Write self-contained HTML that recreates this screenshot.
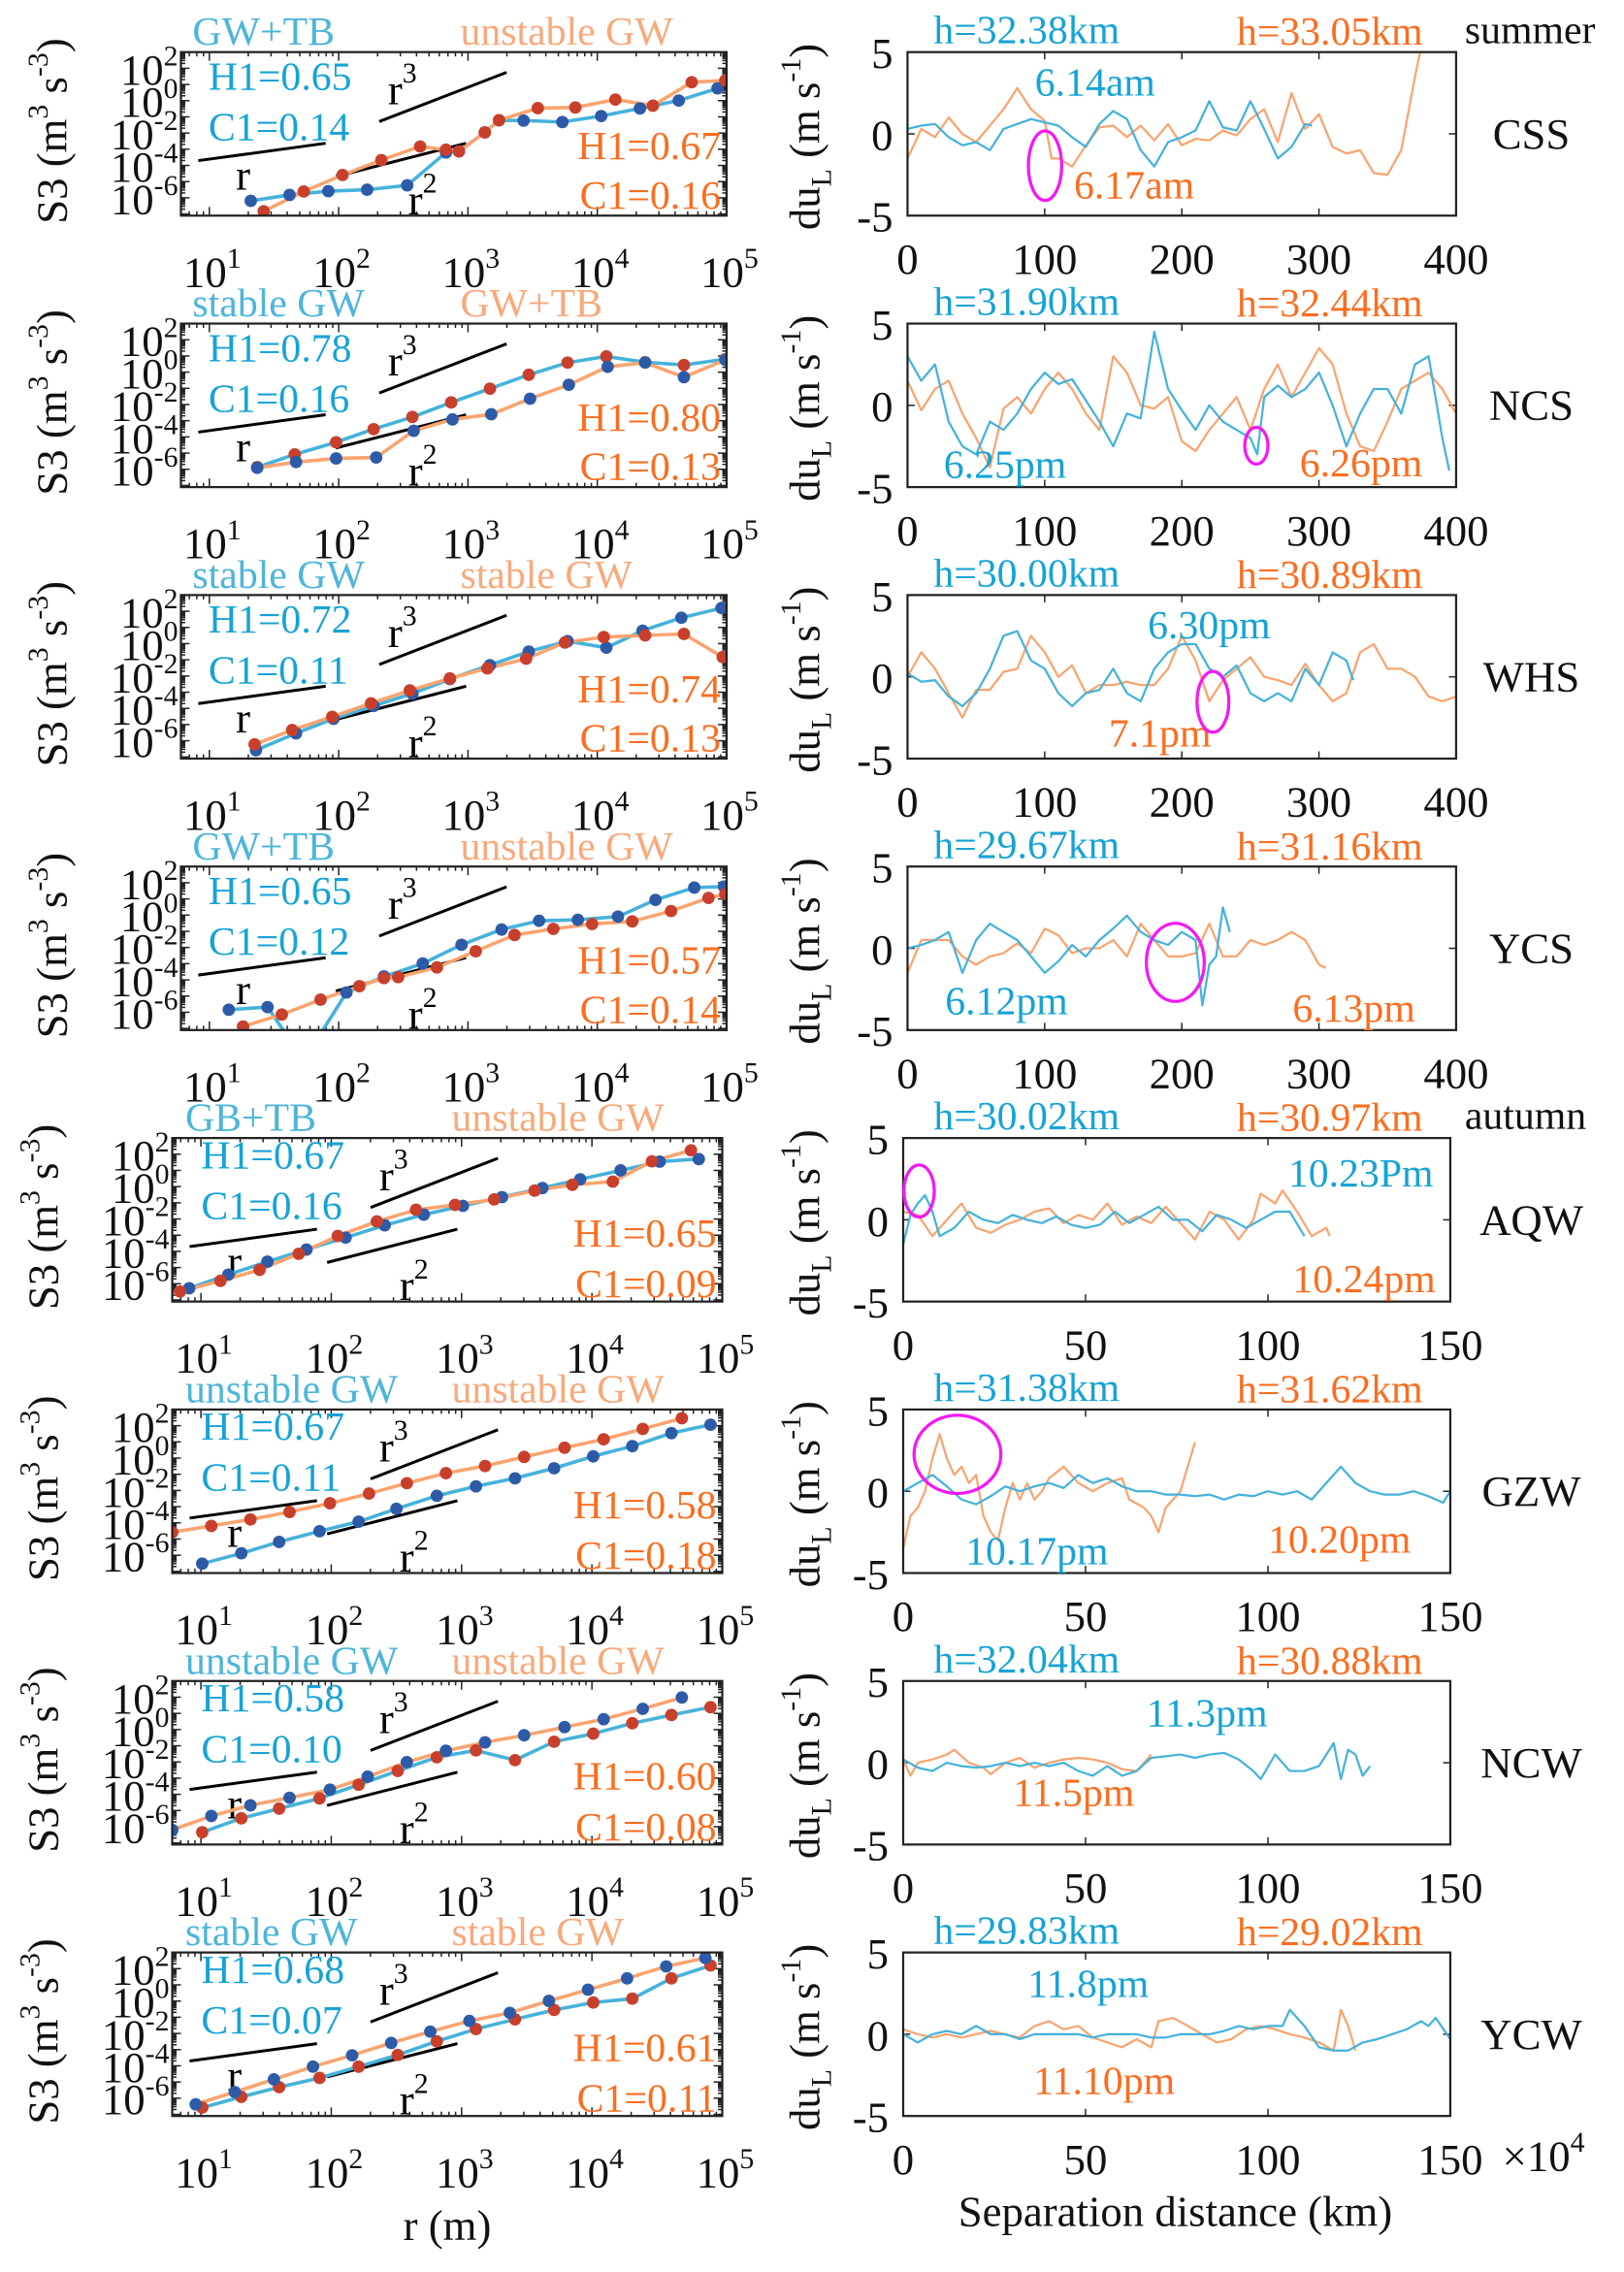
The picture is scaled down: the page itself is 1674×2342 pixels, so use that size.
<!DOCTYPE html>
<html><head><meta charset="utf-8"><title>S3 and du_L panels</title>
<style>
html,body{margin:0;padding:0;background:#fff;}
svg{display:block;font-family:"Liberation Serif","Times New Roman",serif;}
</style></head>
<body>
<svg id="fig" width="1674" height="2342" viewBox="0 0 1122 1570" preserveAspectRatio="none" xmlns="http://www.w3.org/2000/svg">
<rect x="0" y="0" width="1122" height="1570" fill="#fff"/>
<defs id="defs"></defs>
</svg>
<script>
// ---------- label data ----------
const titleBlue = ['GW+TB','stable GW','stable GW','GW+TB','GB+TB','unstable GW','unstable GW','stable GW'];
const titleOrange = ['unstable GW','GW+TB','stable GW','unstable GW','unstable GW','unstable GW','unstable GW','stable GW'];
const h1Blue = ['0.65','0.78','0.72','0.65','0.67','0.67','0.58','0.68'];
const c1Blue = ['0.14','0.16','0.11','0.12','0.16','0.11','0.10','0.07'];
const h1Orange = ['0.67','0.80','0.74','0.57','0.65','0.58','0.60','0.61'];
const c1Orange = ['0.16','0.13','0.13','0.14','0.09','0.18','0.08','0.11'];
const hBlue = ['32.38','31.90','30.00','29.67','30.02','31.38','32.04','29.83'];
const hOrange = ['33.05','32.44','30.89','31.16','30.97','31.62','30.88','29.02'];
const stations = ['CSS','NCS','WHS','YCS','AQW','GZW','NCW','YCW'];
const timeBlue = ['6.14am','6.25pm','6.30pm','6.12pm','10.23Pm','10.17pm','11.3pm','11.8pm'];
const timeOrange = ['6.17am','6.26pm','7.1pm','6.13pm','10.24pm','10.20pm','11.5pm','11.10pm'];
const xTicksLong = [0,100,200,300,400];
const xTicksShort = [0,50,100,150];
const yTicksDu = [5,0,-5];
const logXTicks = [1,2,3,4,5];
const logYTicks = [2,0,-2,-4,-6];

// ---------- S3 data: [log10 r, log10 S3] ----------
const s3Blue1 = [[1.32,-6.19],[1.62,-5.82],[1.92,-5.59],[2.22,-5.50],[2.53,-5.23],[2.83,-3.2],[2.93,-3.13],[3.13,-1.96],[3.24,-1.21],[3.43,-1.23],[3.73,-1.32],[4.03,-0.95],[4.33,-0.48],[4.63,0.01],[4.93,0.76]];
const s3Orange1 = [[1.42,-6.83],[1.73,-5.61],[2.03,-4.59],[2.33,-3.67],[2.63,-2.83],[2.83,-3.03],[2.93,-3.13],[3.13,-1.96],[3.24,-1.21],[3.54,-0.46],[3.83,-0.42],[4.14,0.07],[4.43,-0.31],[4.73,1.14],[4.99,1.25]];
const s3Blue2 = [[1.37,-5.87],[1.66,-5.08],[1.98,-4.33],[2.27,-3.52],[2.57,-2.77],[2.87,-1.87],[3.17,-1.02],[3.47,-0.16],[3.77,0.59],[4.07,0.97],[4.37,0.61],[4.67,0.44],[4.99,0.80]];
const s3Orange2 = [[1.37,-5.91],[1.67,-5.55],[1.98,-5.33],[2.29,-5.27],[2.58,-3.62],[2.88,-2.92],[3.18,-2.60],[3.48,-1.64],[3.78,-0.78],[4.08,0.33],[4.37,0.59],[4.67,-0.31],[4.99,0.76]];
const s3Blue3 = [[1.36,-6.58],[1.67,-5.54],[1.96,-4.64],[2.27,-3.85],[2.57,-3.09],[2.86,-2.19],[3.17,-1.33],[3.47,-0.49],[3.77,0.15],[4.07,-0.25],[4.35,0.80],[4.65,1.60],[4.96,2.20]];
const s3Orange3 = [[1.35,-6.22],[1.64,-5.34],[1.95,-4.52],[2.25,-3.69],[2.55,-2.89],[2.86,-2.15],[3.15,-1.53],[3.45,-0.93],[3.75,0.07],[4.05,0.41],[4.37,0.51],[4.67,0.60],[4.97,-0.83]];
const s3Blue4 = [[1.15,-5.84],[1.45,-5.68],[1.73,-8.98],[2.06,-4.78],[2.35,-3.79],[2.65,-2.99],[2.95,-1.83],[3.26,-0.89],[3.55,-0.35],[3.85,-0.29],[4.16,-0.09],[4.45,0.94],[4.75,1.70],[4.98,1.76]];
const s3Orange4 = [[1.26,-6.88],[1.56,-6.14],[1.86,-5.22],[2.16,-4.39],[2.35,-3.89],[2.46,-3.83],[2.76,-3.23],[3.06,-2.23],[3.36,-1.23],[3.66,-0.85],[3.96,-0.55],[4.27,-0.39],[4.57,0.25],[4.86,1.06],[4.99,1.30]];
const s3Blue5 = [[0.91,-6.28],[1.21,-5.44],[1.51,-4.64],[1.81,-3.89],[2.11,-3.15],[2.41,-2.39],[2.71,-1.73],[3.01,-1.19],[3.31,-0.65],[3.62,-0.09],[3.91,0.45],[4.22,1.0],[4.52,1.54],[4.82,1.70]];
const s3Orange5 = [[0.84,-6.48],[1.15,-5.82],[1.45,-5.14],[1.75,-4.15],[2.05,-3.05],[2.35,-2.15],[2.65,-1.43],[2.95,-1.13],[3.25,-0.79],[3.56,-0.25],[3.85,0.11],[4.16,0.31],[4.46,1.56],[4.76,2.24]];
const s3Blue6 = [[1.01,-6.52],[1.31,-5.88],[1.60,-5.18],[1.91,-4.52],[2.21,-3.93],[2.50,-3.13],[2.81,-2.33],[3.11,-1.75],[3.41,-1.25],[3.71,-0.63],[4.01,0.11],[4.31,0.74],[4.61,1.54],[4.91,2.06]];
const s3Orange6 = [[0.78,-4.58],[1.08,-4.19],[1.38,-3.79],[1.68,-3.33],[1.99,-2.79],[2.29,-2.19],[2.58,-1.55],[2.88,-0.93],[3.18,-0.49],[3.48,0.07],[3.79,0.64],[4.09,1.16],[4.39,1.80],[4.69,2.46]];
const s3Blue7 = [[1.01,-6.34],[1.31,-5.48],[1.60,-4.88],[1.91,-4.25],[2.21,-3.41],[2.51,-2.55],[2.81,-1.71],[3.11,-1.29],[3.41,-1.89],[3.71,-0.75],[4.01,-0.25],[4.31,0.39],[4.61,0.90],[4.91,1.38]];
const s3Orange7 = [[0.78,-6.20],[1.08,-5.34],[1.38,-4.68],[1.68,-4.21],[1.99,-3.71],[2.28,-2.91],[2.58,-2.01],[2.88,-1.31],[3.18,-0.79],[3.48,-0.35],[3.79,0.15],[4.09,0.64],[4.39,1.28],[4.69,1.98]];
const s3Blue8 = [[1.01,-6.58],[1.31,-5.92],[1.60,-5.32],[1.91,-4.75],[2.21,-4.05],[2.51,-3.33],[2.81,-2.49],[3.11,-1.73],[3.41,-1.13],[3.71,-0.55],[4.01,-0.09],[4.31,0.15],[4.61,1.40],[4.91,2.20]];
const s3Orange8 = [[0.96,-6.38],[1.26,-5.62],[1.56,-4.84],[1.86,-4.05],[2.16,-3.35],[2.46,-2.59],[2.76,-1.89],[3.06,-1.23],[3.37,-0.73],[3.67,0.01],[3.97,0.70],[4.27,1.40],[4.57,2.14],[4.87,2.66]];
const s3BlueSeries = [s3Blue1,s3Blue2,s3Blue3,s3Blue4,s3Blue5,s3Blue6,s3Blue7,s3Blue8];
const s3OrangeSeries = [s3Orange1,s3Orange2,s3Orange3,s3Orange4,s3Orange5,s3Orange6,s3Orange7,s3Orange8];
const blueDotColor = ['#2d5ba8','#c8402c','#2d5ba8','#2d5ba8','#2d5ba8','#2d5ba8','#c8402c','#c8402c'];
const orangeDotColor = ['#c8402c','#2d5ba8','#c8402c','#c8402c','#c8402c','#c8402c','#2d5ba8','#2d5ba8'];

// ---------- du_L data: [distance km, du m/s] ----------
const duBlue1 = [[0,0.3],[10,0.5],[20,0.6],[30,-0.2],[40,-0.7],[50,-0.5],[60,-1.0],[70,0.3],[80,0.6],[90,0.9],[100,0.7],[110,0.5],[120,-0.2],[130,-0.8],[140,0.6],[150,1.4],[160,0.9],[170,-1.0],[180,-2.0],[190,-0.5],[200,-0.2],[210,0.2],[220,2.0],[230,0.4],[240,0.2],[250,2.0],[260,0.3],[270,-1.5],[280,-0.8],[290,0.6],[295,0.5]];
const duOrange1 = [[0,-1.5],[10,0.3],[20,-0.2],[30,1.0],[40,0.0],[50,-0.5],[60,0.5],[70,1.5],[80,2.8],[90,1.5],[100,0.8],[105,-1.5],[110,-1.5],[120,-2.0],[130,-0.7],[140,0.4],[150,0.5],[160,-0.2],[170,0.5],[180,-0.4],[190,0.6],[200,-0.7],[210,-0.3],[220,-0.4],[230,0.2],[240,-0.1],[250,0.9],[260,1.5],[270,-0.5],[280,2.5],[290,0.3],[300,1.2],[310,-0.8],[320,-1.2],[330,-1.0],[340,-2.4],[350,-2.5],[360,-1.0],[370,3.5],[375,5.5]];
const duBlue2 = [[0,3.0],[10,1.5],[20,2.5],[30,-1.0],[40,-2.5],[50,-3.0],[60,-1.0],[70,-1.5],[80,-0.5],[90,1.0],[100,2.0],[110,1.3],[120,1.6],[130,0.3],[140,-1.0],[150,-2.5],[160,-0.5],[170,-0.8],[180,4.5],[190,1.0],[200,-0.3],[210,-1.5],[220,0.0],[230,-1.0],[240,-1.5],[250,-2.0],[255,-3.0],[260,0.5],[270,1.2],[280,0.5],[290,1.0],[300,2.0],[310,0.0],[320,-2.5],[330,-0.5],[340,1.0],[350,1.0],[360,-0.5],[370,2.5],[380,3.0],[390,-2.0],[395,-4.0]];
const duOrange2 = [[0,1.5],[10,-0.3],[20,1.0],[30,1.5],[40,-0.5],[50,-2.0],[60,-3.8],[70,-0.2],[80,0.5],[90,-0.5],[100,1.0],[110,2.0],[120,1.0],[130,-0.5],[140,-1.5],[150,3.0],[160,2.0],[170,0.0],[180,-0.2],[190,0.5],[200,-2.2],[210,-2.8],[220,-1.5],[230,-0.5],[240,0.5],[250,-1.5],[260,1.0],[270,2.5],[280,0.5],[290,2.0],[300,3.5],[310,2.5],[320,-0.5],[330,-2.5],[340,-2.8],[350,-1.0],[360,1.0],[370,1.5],[380,2.0],[390,1.0],[400,-0.5]];
const duBlue3 = [[0,0.2],[10,-0.3],[20,-0.2],[30,-1.2],[40,-1.8],[50,-1.0],[60,0.5],[70,2.5],[80,2.8],[90,1.0],[100,0.5],[110,-1.0],[120,-1.8],[130,-1.0],[140,-0.8],[150,0.5],[160,-1.0],[170,-1.5],[180,0.5],[190,1.5],[200,2.0],[210,2.0],[220,0.5],[230,0.0],[240,0.7],[250,-1.0],[260,-1.5],[270,-1.0],[280,-1.5],[290,0.5],[300,-0.5],[310,1.5],[320,1.0],[325,-0.2]];
const duOrange3 = [[0,0.0],[10,1.5],[20,0.5],[30,-1.0],[40,-2.5],[50,-0.8],[60,-0.8],[70,0.3],[80,0.5],[90,2.5],[100,1.5],[110,0.0],[120,0.7],[130,-1.0],[140,-0.5],[150,-0.5],[160,-0.3],[170,-0.5],[180,-0.5],[190,0.5],[200,2.5],[210,1.0],[220,-1.5],[230,-0.2],[240,0.5],[250,1.2],[260,0.0],[270,-0.2],[280,-0.5],[290,0.8],[300,-0.5],[310,-1.5],[320,-1.0],[330,1.5],[340,2.0],[350,0.5],[360,0.5],[370,0.0],[380,-1.2],[390,-1.5],[400,-1.2]];
const duBlue4 = [[0,0.0],[10,0.2],[20,0.5],[30,1.0],[40,-1.5],[50,0.5],[60,1.5],[70,1.0],[80,0.5],[90,-0.5],[100,-1.5],[110,-0.8],[120,0.2],[130,-0.5],[140,0.5],[150,1.2],[160,2.0],[170,1.0],[180,0.5],[190,0.2],[200,1.0],[210,0.5],[215,-3.5],[220,-1.0],[225,-0.5],[230,2.5],[235,1.0]];
const duOrange4 = [[0,-1.5],[10,0.5],[20,0.5],[30,0.5],[40,-0.5],[50,-1.0],[60,-0.5],[70,-0.3],[80,0.3],[90,-0.3],[100,1.2],[110,0.8],[120,-0.3],[130,0.0],[140,0.0],[150,0.5],[160,-0.5],[170,1.5],[180,0.5],[190,-0.5],[200,-0.5],[210,-0.3],[220,1.5],[230,-0.5],[240,-0.5],[250,0.5],[260,0.2],[270,0.5],[280,1.0],[290,0.5],[300,-1.0],[305,-1.2]];
const duBlue5 = [[0,-1.5],[2,0.3],[4,1.0],[6,1.5],[8,0.5],[10,-1.0],[14,-0.5],[18,0.5],[22,0.0],[26,-0.2],[30,0.3],[34,0.0],[38,-0.2],[42,0.2],[46,-0.3],[50,-0.5],[54,-0.3],[58,0.5],[62,-0.2],[66,0.3],[70,0.8],[74,0.0],[78,0.0],[82,-0.7],[86,0.3],[90,0.0],[94,-0.5],[98,0.0],[102,0.5],[106,0.5],[110,-1.0]];
const duOrange5 = [[0,0.5],[4,0.3],[8,-1.0],[12,0.0],[16,1.0],[20,-0.5],[24,-0.8],[28,-0.3],[32,0.0],[36,0.5],[40,0.7],[44,-0.2],[48,0.3],[52,0.0],[56,1.0],[60,-0.3],[64,0.2],[68,-0.2],[72,0.8],[76,-0.2],[80,-1.2],[84,0.5],[88,0.0],[92,-1.2],[96,0.0],[98,1.6],[102,1.0],[104,1.8],[108,0.5],[112,-1.0],[116,-0.5],[117,-1.0]];
const duBlue6 = [[0,0.0],[4,0.5],[8,1.0],[12,0.3],[16,-0.5],[20,-0.8],[24,-0.3],[28,0.3],[32,0.0],[36,0.3],[40,0.5],[44,0.2],[48,1.0],[52,0.5],[56,0.8],[60,0.3],[64,0.0],[68,0.0],[72,-0.2],[76,-0.2],[80,-0.3],[84,-0.2],[88,-0.5],[92,-0.2],[96,-0.3],[100,0.0],[104,-0.2],[108,0.0],[112,-0.5],[116,0.5],[120,1.5],[124,0.5],[128,0.0],[132,-0.2],[136,-0.2],[140,0.0],[144,-0.3],[148,-0.7],[150,0.0]];
const duOrange6 = [[0,-3.5],[2,-1.5],[4,-1.0],[6,0.0],[8,2.0],[10,3.5],[12,2.0],[14,1.0],[16,1.5],[18,0.5],[20,1.0],[22,-1.5],[24,-2.5],[26,-3.0],[28,-1.0],[30,0.5],[32,-0.5],[34,0.5],[36,-0.5],[38,0.0],[40,0.8],[44,1.5],[48,0.5],[52,0.0],[56,0.5],[60,0.8],[62,-0.5],[66,-1.0],[68,-1.5],[70,-2.5],[72,-1.0],[76,0.0],[80,3.0]];
const duBlue7 = [[0,0.2],[4,-0.3],[8,-0.5],[12,0.0],[16,-0.2],[20,-0.3],[24,-0.2],[28,0.0],[32,-0.2],[36,0.0],[40,-0.2],[44,0.0],[48,-0.5],[52,-0.8],[56,-0.2],[60,-0.8],[64,-0.5],[68,0.3],[72,0.4],[76,0.5],[80,0.3],[84,0.5],[88,0.6],[92,0.2],[96,-0.5],[98,-1.0],[102,0.5],[106,-0.5],[110,-0.5],[114,-0.2],[118,1.2],[120,-1.0],[122,0.8],[124,0.5],[126,-0.8],[128,-0.2]];
const duOrange7 = [[0,0.2],[2,-0.8],[4,0.0],[8,0.2],[12,0.5],[14,0.8],[18,0.0],[22,-0.3],[24,-0.7],[28,0.0],[32,0.3],[36,-0.3],[40,0.0],[44,0.2],[48,0.3],[52,0.2],[56,0.0],[60,-0.4],[64,-0.5],[68,0.5]];
const duBlue8 = [[0,0.0],[4,-0.5],[8,0.0],[12,0.2],[16,0.0],[20,0.5],[24,0.0],[28,0.0],[32,-0.3],[36,0.0],[40,0.0],[44,0.0],[48,0.0],[52,-0.2],[56,0.0],[60,0.0],[64,0.0],[68,-0.2],[72,-0.2],[76,0.0],[80,0.0],[84,0.0],[88,0.2],[92,0.5],[96,0.3],[100,0.5],[104,0.5],[106,1.5],[110,0.5],[114,-0.8],[118,-1.0],[122,-1.0],[126,-0.5],[130,-0.3],[134,0.0],[138,0.3],[142,0.8],[144,0.5],[146,1.0],[150,-0.3]];
const duOrange8 = [[0,0.3],[4,0.0],[8,-0.2],[12,0.0],[16,-0.2],[20,0.0],[24,0.2],[28,0.0],[32,-0.2],[36,0.5],[40,0.8],[44,0.3],[48,0.5],[52,-0.2],[56,-0.5],[60,-0.8],[64,-0.3],[68,-0.8],[70,0.8],[74,1.0],[78,0.5],[82,0.0],[86,-0.5],[90,-0.3],[94,0.3],[98,0.5],[102,0.3],[106,0.0],[110,-0.2],[114,-0.5],[118,-1.0],[120,1.5],[122,0.5],[124,-1.0]];
const duBlueSeries = [duBlue1,duBlue2,duBlue3,duBlue4,duBlue5,duBlue6,duBlue7,duBlue8];
const duOrangeSeries = [duOrange1,duOrange2,duOrange3,duOrange4,duOrange5,duOrange6,duOrange7,duOrange8];

// ---------- layout (not data) ----------
const C_BLUE_LINE='#45b2db', C_OR_LINE='#f9a46f', C_BLUE_TXT='#16a3d6', C_OR_TXT='#fb6d1f', C_BLUE_TTL='#4db5da', C_OR_TTL='#f8a97b';
const ROW0=36, ROWSTEP=187.6, BOXH=113;
const YLOG=[-7.1,3], XLOG=[0.78,5];
const FS=28, TFS=30;
const timeBluePos=[[715,66],[652,330],[793,441],[653,701],[890,820],[667,1081],[792,1193],[710,1380]];
const timeOrangePos=[[742,137],[898,329],[766,516],[893,706],[893,893],[876,1073],[700,1248],[714,1447]];
const ellipsePos=[[722,114.5,11.5,24],[868,308,8,12.7],[838,485,11,21],[812,665,20,27],[635,823,10.5,18],[661.5,1005,30,27]];

const NS='http://www.w3.org/2000/svg';
const svg=document.getElementById('fig');
const defs=document.getElementById('defs');
function el(tag,parent){const e=document.createElementNS(NS,tag);(parent||svg).appendChild(e);return e;}
function attrs(e,o){for(const k in o)e.setAttribute(k,o[k]);return e;}
function txt(parent,x,y,s,size,fill,anchor){const t=el('text',parent);attrs(t,{x:x,y:y,'font-size':size,fill:fill,'text-anchor':anchor||'start'});t.textContent=s;return t;}
function powText(parent,x,y,exp,anchor){const t=el('text',parent);attrs(t,{x:x,y:y,'font-size':TFS,fill:'#111','text-anchor':anchor});t.appendChild(document.createTextNode('10'));const s=el('tspan',t);attrs(s,{dy:-13,'font-size':20});s.textContent=String(exp);return t;}

for(let i=0;i<8;i++){
  const top=ROW0+ROWSTEP*i, bot=top+BOXH;
  const lx0=i<4?125:119, lx1=i<4?502:499;
  const rx0=i<4?627:624, rx1=i<4?1006:1002;
  const xmax=i<4?400:150;
  const xs=v=>lx0+(v-XLOG[0])/(XLOG[1]-XLOG[0])*(lx1-lx0);
  const ys=v=>bot-(v-YLOG[0])/(YLOG[1]-YLOG[0])*BOXH;
  const dx=v=>rx0+v/xmax*(rx1-rx0);
  const dy=v=>top+(5-v)/10*BOXH;

  // ===== left panel =====
  const L=el('g');
  
  
  const cpL=el('clipPath',defs); cpL.setAttribute('id','cl'+i);
  attrs(el('rect',cpL),{x:lx0,y:top,width:lx1-lx0,height:BOXH});
  const tk=el('g',L);
  
  
  for(let d=0;d<=5;d++){for(let m=1;m<=9;m++){const lv=d+Math.log10(m);if(lv<XLOG[0]||lv>XLOG[1])continue;const len=m===1?6:3;const x=xs(lv);
    attrs(el('line',tk),{x1:x,y1:bot,x2:x,y2:bot-len,stroke:'#222','stroke-width':1});
    attrs(el('line',tk),{x1:x,y1:top,x2:x,y2:top+len,stroke:'#222','stroke-width':1});}}
  for(let d=-8;d<=3;d++){for(let m=1;m<=9;m++){const lv=d+Math.log10(m);if(lv<YLOG[0]||lv>YLOG[1])continue;const len=m===1?6:3;const y=ys(lv);
    attrs(el('line',tk),{x1:lx0,y1:y,x2:lx0+len,y2:y,stroke:'#222','stroke-width':1});
    attrs(el('line',tk),{x1:lx1,y1:y,x2:lx1-len,y2:y,stroke:'#222','stroke-width':1});}}
  for(const e of logYTicks){const t=powText(L,lx0-2,ys(e)+11,e,'end');
    
    }
  for(const e of logXTicks){const t=powText(L,xs(e)+2,bot+49,e,'middle');
    
    }
  const rl=el('g',L);
  
  
  const sh=lx0-125;
  attrs(el('line',rl),{x1:137+sh,y1:top+75,x2:225+sh,y2:top+63,stroke:'#000','stroke-width':2});
  attrs(el('line',rl),{x1:262+sh,y1:top+48,x2:350+sh,y2:top+14,stroke:'#000','stroke-width':2});
  attrs(el('line',rl),{x1:232+sh,y1:top+86,x2:322+sh,y2:top+63,stroke:'#000','stroke-width':2});
  txt(rl,163+sh,top+95,'r',FS+2,'#000');
  const r3=txt(rl,268+sh,top+36,'r',FS+2,'#000'); const s3=el('tspan',r3); attrs(s3,{dy:-15,'font-size':20}); s3.textContent='3';
  const r2=txt(rl,282+sh,top+112,'r',FS+2,'#000'); const s2=el('tspan',r2); attrs(s2,{dy:-15,'font-size':20}); s2.textContent='2';
  const sg=el('g',L); sg.setAttribute('clip-path','url(#cl'+i+')');
  const pairs=[[s3BlueSeries[i],C_BLUE_LINE,blueDotColor[i],'blue'],[s3OrangeSeries[i],C_OR_LINE,orangeDotColor[i],'orange']];
  for(const [ser,lc,dc,nm] of pairs){
    const p=el('polyline',sg);
    
    
    attrs(p,{points:ser.map(q=>xs(q[0]).toFixed(1)+','+ys(q[1]).toFixed(1)).join(' '),fill:'none',stroke:lc,'stroke-width':2.4});
  }
  for(const [ser,lc,dc,nm] of pairs){
    for(const q of ser){const c=el('circle',sg);
      
      
      attrs(c,{cx:xs(q[0]),cy:ys(q[1]),r:4.3,fill:dc});}
  }
  const bx=el('rect',L);
  
  
  attrs(bx,{x:lx0,y:top,width:lx1-lx0,height:BOXH,fill:'none',stroke:'#222','stroke-width':1.5});
  const bl=i<4?133:128, ol=i<4?318:312;
  let t=txt(L,bl,top-5,titleBlue[i],FS,C_BLUE_TTL);
  
  
  t=txt(L,ol,top-5,titleOrange[i],FS,C_OR_TTL);
  
  
  const ax=i<4?144:139, ha=i<4?26:21, ca=i<4?61:56, hb=i<4?74:75, cb=i<4?108:110, orr=i<4?498:495;
  t=txt(L,ax,top+ha,'H1='+h1Blue[i],FS,C_BLUE_TXT);
  
  
  t=txt(L,ax,top+ca,'C1='+c1Blue[i],FS,C_BLUE_TXT);
  
  
  t=txt(L,orr,top+hb,'H1='+h1Orange[i],FS,C_OR_TXT,'end');
  
  
  t=txt(L,orr,top+cb,'C1='+c1Orange[i],FS,C_OR_TXT,'end');
  
  
  const yt=el('text',L);
  
  
  attrs(yt,{x:0,y:0,'font-size':TFS,fill:'#111','text-anchor':'middle',transform:'translate('+(i<4?46:40)+','+(top+BOXH/2-2)+') rotate(-90)'});
  yt.appendChild(document.createTextNode('S3 (m'));
  let sp=el('tspan',yt); attrs(sp,{dy:-13,'font-size':20}); sp.textContent='3';
  sp=el('tspan',yt); attrs(sp,{dy:13}); sp.textContent=' s';
  sp=el('tspan',yt); attrs(sp,{dy:-13,'font-size':20}); sp.textContent='-3';
  sp=el('tspan',yt); attrs(sp,{dy:13}); sp.textContent=')';

  // ===== right panel =====
  const R=el('g');
  
  
  const cpR=el('clipPath',defs); cpR.setAttribute('id','cr'+i);
  attrs(el('rect',cpR),{x:rx0,y:top,width:rx1-rx0,height:BOXH});
  const xt=i<4?xTicksLong:xTicksShort;
  for(const v of xt){
    attrs(el('line',R),{x1:dx(v),y1:bot,x2:dx(v),y2:bot-5,stroke:'#222','stroke-width':1});
    attrs(el('line',R),{x1:dx(v),y1:top,x2:dx(v),y2:top+5,stroke:'#222','stroke-width':1});
    const tl=txt(R,dx(v),bot+40,String(v),TFS,'#111','middle');
    
    
  }
  for(const v of yTicksDu){
    attrs(el('line',R),{x1:rx0,y1:dy(v),x2:rx0+5,y2:dy(v),stroke:'#222','stroke-width':1});
    attrs(el('line',R),{x1:rx1,y1:dy(v),x2:rx1-5,y2:dy(v),stroke:'#222','stroke-width':1});
    const tl=txt(R,rx0-10,dy(v)+11,String(v),TFS,'#111','end');
    
    
  }
  const rg=el('g',R); rg.setAttribute('clip-path','url(#cr'+i+')');
  const rp=[[duOrangeSeries[i],C_OR_LINE,'orange'],[duBlueSeries[i],C_BLUE_LINE,'blue']];
  for(const [ser,lc,nm] of rp){
    const p=el('polyline',rg);
    
    
    attrs(p,{points:ser.map(q=>dx(q[0]).toFixed(1)+','+dy(q[1]).toFixed(1)).join(' '),fill:'none',stroke:lc,'stroke-width':1.5,'stroke-linejoin':'round'});
  }
  const rb=el('rect',R);
  
  
  attrs(rb,{x:rx0,y:top,width:rx1-rx0,height:BOXH,fill:'none',stroke:'#222','stroke-width':1.5});
  t=txt(R,645,top-6,'h='+hBlue[i]+'km',FS,C_BLUE_TXT);
  
  
  t=txt(R,983,top-5,'h='+hOrange[i]+'km',FS,C_OR_TXT,'end');
  
  
  t=txt(R,timeBluePos[i][0],timeBluePos[i][1],timeBlue[i],FS,C_BLUE_TXT);
  
  
  t=txt(R,timeOrangePos[i][0],timeOrangePos[i][1],timeOrange[i],FS,C_OR_TXT);
  
  
  if(i<ellipsePos.length){const e=el('ellipse',R);
    
    
    attrs(e,{cx:ellipsePos[i][0],cy:ellipsePos[i][1],rx:ellipsePos[i][2],ry:ellipsePos[i][3],fill:'none',stroke:'#f21af2','stroke-width':2.2});}
  t=txt(R,1058,top+BOXH/2+10,stations[i],TFS,'#111','middle');
  
  
  const dt=el('text',R);
  
  
  attrs(dt,{x:0,y:0,'font-size':TFS,fill:'#111','text-anchor':'middle',transform:'translate(566,'+(top+BOXH/2+2)+') rotate(-90)'});
  dt.appendChild(document.createTextNode('du'));
  sp=el('tspan',dt); attrs(sp,{dy:8,'font-size':20}); sp.textContent='L';
  sp=el('tspan',dt); attrs(sp,{dy:-8}); sp.textContent=' (m s';
  sp=el('tspan',dt); attrs(sp,{dy:-13,'font-size':20}); sp.textContent='-1';
  sp=el('tspan',dt); attrs(sp,{dy:13}); sp.textContent=')';
}
let g=txt(svg,1012,30,'summer',FS,'#111');


g=txt(svg,1012,780,'autumn',FS,'#111');


g=txt(svg,309,1548,'r (m)',TFS,'#111','middle');


g=txt(svg,812,1538,'Separation distance (km)',TFS,'#111','middle');


g=el('text');


attrs(g,{x:1038,y:1500,'font-size':TFS,fill:'#111'});
g.appendChild(document.createTextNode('\u00d710'));
let e4=el('tspan',g); attrs(e4,{dy:-13,'font-size':20}); e4.textContent='4';
</script>
</body></html>
